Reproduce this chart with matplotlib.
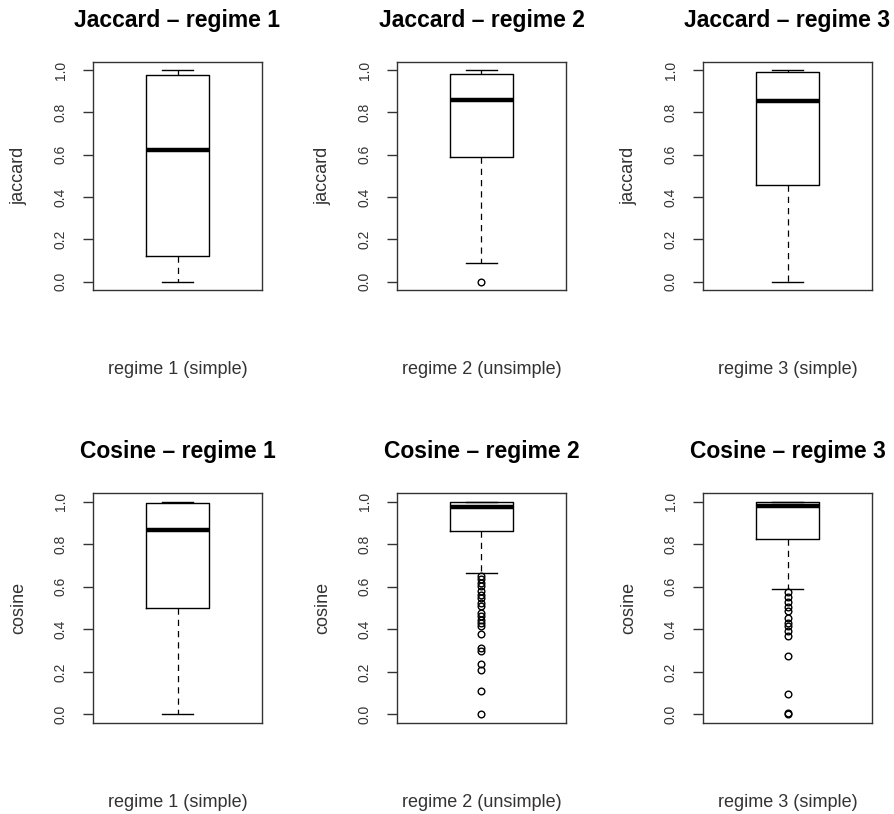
import matplotlib
matplotlib.use("Agg")
import matplotlib.pyplot as plt

plt.rcParams['font.family'] = ['Liberation Sans', 'DejaVu Sans']

titles = ["Jaccard – regime 1", "Jaccard – regime 2", "Jaccard – regime 3",
          "Cosine – regime 1", "Cosine – regime 2", "Cosine – regime 3"]
ylabels = ["jaccard"] * 3 + ["cosine"] * 3
xlabels = ["regime 1 (simple)", "regime 2 (unsimple)", "regime 3 (simple)"] * 2

# box statistics: lower whisker, q1, median, q3, upper whisker
whislo = [0.0, 0.086, 0.0, 0.0, 0.665, 0.59]
q1 = [0.12, 0.589, 0.458, 0.498, 0.861, 0.825]
med = [0.62, 0.859, 0.854, 0.864, 0.975, 0.978]
q3 = [0.975, 0.98, 0.99, 0.995, 0.997, 0.998]
whishi = [1.0, 1.0, 1.0, 1.0, 1.0, 1.0]

fliers_j1 = []
fliers_j2 = [0.0]
fliers_j3 = []
fliers_c1 = []
fliers_c2 = [0.649, 0.634, 0.618, 0.602, 0.579, 0.563, 0.548, 0.524, 0.509,
             0.477, 0.462, 0.446, 0.431, 0.415, 0.376, 0.313, 0.297, 0.235,
             0.211, 0.109, 0.0]
fliers_c3 = [0.573, 0.55, 0.526, 0.505, 0.485, 0.455, 0.43, 0.415, 0.39, 0.37,
             0.274, 0.094, 0.005, 0.0]
fliers = [fliers_j1, fliers_j2, fliers_j3, fliers_c1, fliers_c2, fliers_c3]

W, H = 895, 814
fig = plt.figure(figsize=(W / 100, H / 100), dpi=100)

lefts = [93, 397, 703]
rows = [(61.7, 290), (493, 723)]  # top, bottom in pixels
axw = 169

for i in range(6):
    r, c = divmod(i, 3)
    top, bot = rows[r]
    ax = fig.add_axes([lefts[c] / W, 1 - bot / H, axw / W, (bot - top) / H])
    stats = [dict(whislo=whislo[i], q1=q1[i], med=med[i], q3=q3[i],
                  whishi=whishi[i], fliers=fliers[i])]
    ax.bxp(stats, positions=[1], widths=0.4, showfliers=True,
           boxprops=dict(color='black', linewidth=1.0),
           medianprops=dict(color='black', linewidth=3.2, solid_capstyle='butt'),
           whiskerprops=dict(color='black', linewidth=0.9, linestyle=(0, (5, 4))),
           capprops=dict(color='black', linewidth=1.0),
           capwidths=0.2,
           flierprops=dict(marker='o', markersize=4.8, markerfacecolor='none',
                           markeredgecolor='black', markeredgewidth=1.0))
    ax.set_xlim(0.46, 1.54)
    ax.set_ylim(-0.04, 1.04)
    ax.set_xticks([])
    ax.set_yticks([0.0, 0.2, 0.4, 0.6, 0.8, 1.0])
    ax.set_yticklabels(["0.0", "0.2", "0.4", "0.6", "0.8", "1.0"],
                       rotation=90, va='center')
    ax.tick_params(axis='y', length=7, width=1, pad=11, labelsize=10,
                   labelcolor='#333333', color='#333333')
    for s in ax.spines.values():
        s.set_linewidth(1.0)
        s.set_color('#333333')
    ax.set_title(titles[i], fontsize=16.5, fontweight='bold', pad=25)
    ax.set_ylabel(ylabels[i], fontsize=13, labelpad=19, color='#333333')
    ax.set_xlabel(xlabels[i], fontsize=13, labelpad=51, color='#333333')

fig.savefig("out.png", dpi=100)
